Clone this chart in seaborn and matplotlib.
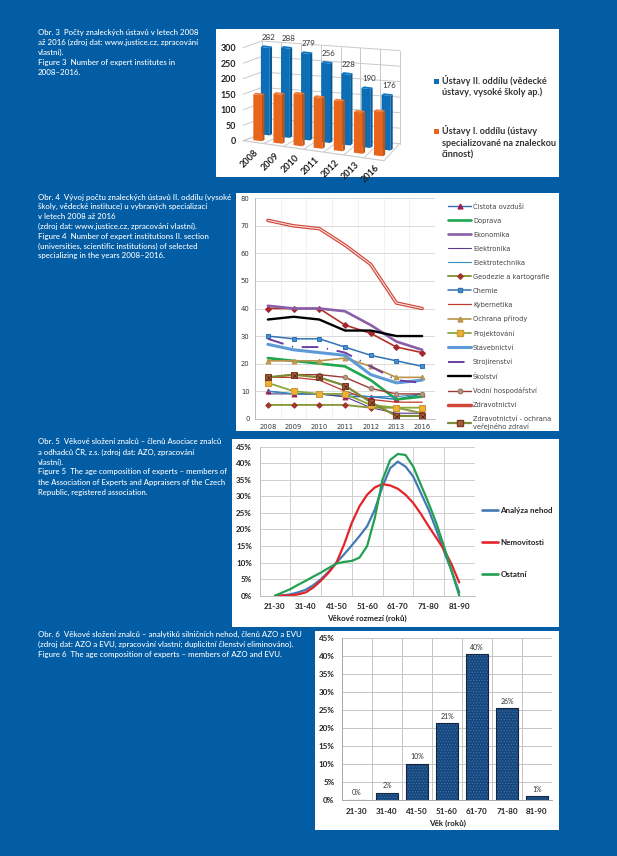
import numpy as np
import pandas as pd
import matplotlib
matplotlib.use("Agg")
import matplotlib.pyplot as plt
import seaborn as sns
from matplotlib.lines import Line2D
from matplotlib.patches import Rectangle
from matplotlib.transforms import Affine2D

W, H = 617, 856
BG = "#025DA5"
sns.set_theme(style="white")
plt.rcParams["font.family"] = ["Lato", "DejaVu Sans"]
plt.rcParams["hatch.linewidth"] = 0.5

# ---------- data ----------
years = ["2008", "2009", "2010", "2011", "2012", "2013", "2016"]
inst_II = [282, 288, 279, 256, 228, 190, 176]
inst_I = [148, 158, 167, 164, 161, 133, 143]
name_II = ["Ústavy II. oddílu (vědecké", "ústavy, vysoké školy ap.)"]
name_I = ["Ústavy I. oddílu (ústavy", "specializované na znaleckou", "činnost)"]

cistota = [10, 9, 9, 8, 8, 7, 9]
doprava = [22, 21, 20, 19, 14, 7, 8]
ekonomika = [41, 40, 40, 39, 34, 28, 25]
elektronika = [9, 9, 9, 8, 4, 2, 2]
elektrotechnika = [10, 9, 9, 9, 8, 8, 9]
geodezie = [5, 5, 5, 5, 4, 4, 2]
chemie = [30, 29, 29, 26, 23, 21, 19]
kybernetika = [15, 15, 14, 10, 7, 6, 6]
ochrana = [21, 21, 21, 22, 19, 15, 15]
projektovani = [13, 10, 9, 9, 5, 4, 4]
stavebnictvi = [27, 25, 24, 23, 16, 13, 14]
strojirenstvi = [29, 26, 26, 24, 19, 14, 13]
skolstvi = [36, 37, 36, 32, 32, 30, 30]
vodni = [15, 16, 16, 15, 11, 9, 9]
zdravotnictvi = [72, 70, 69, 63, 56, 42, 40]
zdrav_ochrana = [15, 16, 15, 12, 6, 1, 1]
bez_popisku = [40, 40, 40, 34, 31, 26, 24]

age_groups = ["21-30", "31-40", "41-50", "51-60", "61-70", "71-80", "81-90"]
curve_pos = [0, .25, .5, .75, 1, 1.25, 1.5, 1.75, 2, 2.25, 2.5, 2.75, 3, 3.25, 3.5,
             3.75, 4, 4.25, 4.5, 4.75, 5, 5.25, 5.5, 5.75, 6]
analyza = [0, .1, .4, 1, 1.8, 3.2, 5, 7.3, 10, 12.5, 15.2, 18, 21, 26, 33, 38.5, 40.5,
           39, 36, 31, 26, 20, 13.5, 7.5, 1]
nemovitosti = [0, 0, .1, .4, 1, 2.5, 4.6, 7, 10, 15.5, 22, 27, 30.5, 32.7, 33.7, 33.3,
               32.3, 30.5, 28, 24.7, 21, 17.5, 14, 9.5, 4]
ostatni = [0, 1, 2, 3.3, 4.5, 5.8, 7, 8.4, 9.7, 10.2, 10.5, 11.5, 15, 23.5, 35, 41,
           42.8, 42.5, 39, 33.5, 28, 22, 15, 7.5, 0]

age_share = [0, 2, 10, 21.3, 40.5, 25.5, 1]
age_labels = ["0%", "2%", "10%", "21%", "40%", "26%", "1%"]

cap3 = ["Obr. 3  Počty znaleckých ústavů v letech 2008",
        "až 2016 (zdroj dat: www.justice.cz, zpracování",
        "vlastní).",
        "Figure 3  Number of expert institutes in",
        "2008–2016."]
cap4 = ["Obr. 4  Vývoj počtu znaleckých ústavů II. oddílu (vysoké",
        "školy, vědecké instituce) u vybraných specializací",
        "v letech 2008 až 2016",
        "(zdroj dat: www.justice.cz, zpracování vlastní).",
        "Figure 4  Number of expert institutions II. section",
        "(universities, scientific institutions) of selected",
        "specializing in the years 2008–2016."]
cap5 = ["Obr. 5  Věkové složení znalců – členů Asociace znalců",
        "a odhadců ČR, z.s. (zdroj dat: AZO, zpracování",
        "vlastní).",
        "Figure 5  The age composition of experts – members of",
        "the Association of Experts and Appraisers of the Czech",
        "Republic, registered association."]
cap6 = ["Obr. 6  Věkové složení znalců – analytiků silničních nehod, členů AZO a EVU",
        "(zdroj dat: AZO a EVU, zpracování vlastní; duplicitní členství eliminováno).",
        "Figure 6  The age composition of experts – members of AZO and EVU."]

# ---------- helpers ----------
fig = plt.figure(figsize=(W / 100, H / 100), dpi=100, facecolor=BG)


def fx(x):
    return x / W


def fy(y):
    return 1 - y / H


def axes_px(x0, y0, x1, y1):
    a = fig.add_axes([fx(x0), fy(y1), (x1 - x0) / W, (y1 - y0) / H])
    a.patch.set_alpha(0)
    return a


def white_box(x0, y0, x1, y1):
    fig.add_artist(Rectangle((fx(x0), fy(y1)), (x1 - x0) / W, (y1 - y0) / H,
                             transform=fig.transFigure, fc="white", ec="none", zorder=-5))


def caption(lines, x, y0, step, size=5.7):
    for k, t in enumerate(lines):
        fig.text(fx(x), fy(y0 + k * step), t, color="white", fontsize=size,
                 va="center", ha="left", fontweight="medium")


white_box(216, 29, 559, 177)
white_box(236, 193, 559, 431)
white_box(232, 439, 559, 627)
white_box(315, 631, 559, 830)
caption(cap3, 38, 32, 10.2)
caption(cap4, 38, 197, 9.8)
caption(cap5, 38, 442, 10, size=5.6)
caption(cap6, 38, 634, 10)

# ---------- Figure 3: pseudo-3D columns ----------
ax = axes_px(247.7, 47.7, 388.5, 140.7)
df3 = pd.DataFrame({"rok": years * 2,
                    "pocet": inst_II + inst_I,
                    "oddil": ["II"] * 7 + ["I"] * 7})
sns.barplot(data=df3, x="rok", y="pocet", hue="oddil", dodge=False, width=.44,
            palette={"II": "#0B6EB6", "I": "#E8651C"}, saturation=1, legend=False,
            linewidth=0, ax=ax)
ax.set_xlim(-.5, 6.5)
ax.set_ylim(0, 300)
upp = 300 / 93
shear = 0.125 * 20.1 * upp
side_dx, side_dy = .115, 1.6 * upp


def bar_tf(dx, dy):
    return Affine2D.from_values(1, -shear, 0, 1, dx, dy) + ax.transData


tf_back = bar_tf(.375, 5.8 * upp)
tf_front = bar_tf(0, 0)
grid3 = "#c9c9c9"
bx0, bx1 = .2, 7.05
by = 6.7 * upp
drop = (0.07 * 20.1 * upp) * (bx1 - bx0)
fx0, fx1 = -.72, 6.28
for v in range(0, 301, 50):
    ax.plot([fx0, bx0], [v, v + by], color=grid3, lw=.7, clip_on=False, zorder=.5)
    ax.plot([bx0, bx1], [v + by, v + by - drop], color=grid3, lw=.7, clip_on=False, zorder=.5)
for i in range(8):
    bx = bx0 + i * (bx1 - bx0) / 7
    ftx = fx0 + i * (fx1 - fx0) / 7
    back_y = by - drop * i / 7
    front_y = -(i / 7) * 20 * upp
    ax.plot([ftx, bx], [front_y, back_y], color=grid3, lw=.7, clip_on=False, zorder=.5)
    ax.plot([bx, bx], [back_y, back_y + 300], color=grid3, lw=.7, clip_on=False, zorder=.5)
ax.plot([fx0, fx1], [0, -20 * upp], color=grid3, lw=.8, clip_on=False, zorder=.5)

for cont, tf, side, top, z in [(ax.containers[0], tf_back, "#075A98", "#0F77C2", 2),
                               (ax.containers[1], tf_front, "#BF5414", "#EE7B36", 3)]:
    for p in cont:
        p.set_transform(tf)
        p.set_clip_on(False)
        p.set_zorder(z)
        x0, x1, h = p.get_x(), p.get_x() + p.get_width(), p.get_height()
        ax.fill([x1, x1 + side_dx, x1 + side_dx, x1],
                [0, side_dy + shear * side_dx, h + side_dy + shear * side_dx, h],
                color=side, lw=0, transform=tf, clip_on=False, zorder=z)
        ax.fill([x0, x1, x1 + side_dx, x0 + side_dx],
                [h, h, h + side_dy + shear * side_dx, h + side_dy + shear * side_dx],
                color=top, lw=0, transform=tf, clip_on=False, zorder=z)
for i, v in enumerate(inst_II):
    ax.text(i + .14, v + 10 * upp, str(v), transform=tf_back, ha="center", va="center",
            fontsize=5.7, color="#333333", zorder=6)
for i, y in enumerate(years):
    ax.text(i - .39, -18.2 * upp - 2.4 * upp * i, y, rotation=45, ha="center", va="center",
            fontsize=6.6, fontweight="bold", color="#222222", clip_on=False)
sns.despine(ax=ax, left=True, bottom=True)
ax.set_xticks([])
ax.set_yticks(range(0, 301, 50))
ax.tick_params(axis="y", length=0, pad=8.3, labelsize=6.4, labelcolor="#222222")
for t in ax.get_yticklabels():
    t.set_fontweight("bold")
ax.set_xlabel("")
ax.set_ylabel("")

fig.add_artist(Rectangle((fx(433.5), fy(84)), 5 / W, 5.5 / H, transform=fig.transFigure,
                         fc="#0B6EB6", ec="none"))
fig.add_artist(Rectangle((fx(433.5), fy(134)), 5 / W, 5.5 / H, transform=fig.transFigure,
                         fc="#E8651C", ec="none"))
for k, t in enumerate(name_II):
    fig.text(fx(442), fy(81 + k * 11.7), t, fontsize=6.6, fontweight="bold", color="#333333", va="center")
for k, t in enumerate(name_I):
    fig.text(fx(442), fy(131 + k * 12), t, fontsize=6.6, fontweight="bold", color="#333333", va="center")

# ---------- Figure 4: lines ----------
ax = axes_px(255, 198.3, 435, 418.7)
series4 = [
    ("Čistota ovzduší", cistota, dict(color="#2E6DB4", lw=1.0, marker="^", ms=3.5, mfc="#A0205A", mec="#A0205A")),
    ("Doprava", doprava, dict(color="#1FA84F", lw=1.9)),
    ("Ekonomika", ekonomika, dict(color="#8A5FA8", lw=1.9)),
    ("Elektronika", elektronika, dict(color="#5B3A8C", lw=.8)),
    ("Elektrotechnika", elektrotechnika, dict(color="#2F8FC0", lw=.8)),
    ("Geodezie a kartografie", geodezie, dict(color="#8A9A3C", lw=1.4, marker="D", ms=2.8, mfc="#A0362B", mec="#A0362B")),
    ("Chemie", chemie, dict(color="#2F72B5", lw=1.1, marker="s", ms=3.2, mfc="#4A90D0", mec="#2F72B5")),
    ("Kybernetika", kybernetika, dict(color="#C0392B", lw=.9)),
    ("Ochrana přírody", ochrana, dict(color="#B8924A", lw=1.2, marker="^", ms=3.5, mfc="#C8A050", mec="#B8924A")),
    ("Projektování", projektovani, dict(color="#8AA83C", lw=1.3, marker="s", ms=3.8, mfc="#F0B030", mec="#C89A3A")),
    ("Stavebnictví", stavebnictvi, dict(color="#5C9BD8", lw=2.2)),
    ("Strojírenství", strojirenstvi, dict(color="#6A3FA0", lw=1.4, dashes=(8.5, 4.5, .6, 4.5))),
    ("Školství", skolstvi, dict(color="black", lw=1.7)),
    ("Vodní hospodářství", vodni, dict(color="#9B3A33", lw=1.0, marker="o", ms=3.2, mfc="#B89A80", mec="#9B7A68")),
    ("Zdravotnictví", zdravotnictvi, dict(color="#D0473A", lw=2.5)),
    ("Zdravotnictví - ochrana\nveřejného zdraví", zdrav_ochrana, dict(color="#7F8A35", lw=1.6, marker="s", ms=4.6, mfc="#A5603B", mec="#7A3A25")),
]
handles4 = []
sns.lineplot(x=years, y=bez_popisku, sort=False, errorbar=None, ax=ax, color="#B5312B", lw=1.2,
             marker="D", markersize=3, markerfacecolor="#A5282E", markeredgecolor="#A5282E")
for name, vals, st in series4:
    kw = dict(st)
    mk = {}
    for a, b in [("marker", "marker"), ("ms", "markersize"), ("mfc", "markerfacecolor"), ("mec", "markeredgecolor")]:
        if a in kw:
            mk[b] = kw.pop(a)
    sns.lineplot(x=years, y=vals, sort=False, errorbar=None, ax=ax, **kw, **mk)
    handles4.append(Line2D([], [], **{k: v for k, v in st.items()}))
    if name.startswith("Zdravotnictví - "):
        sns.lineplot(x=years, y=vals, sort=False, errorbar=None, ax=ax, lw=0, marker="x",
                     markersize=3.6, markeredgecolor="#5A2A1A", markeredgewidth=.6, color="#5A2A1A")
    if name == "Zdravotnictví":
        sns.lineplot(x=years, y=vals, sort=False, errorbar=None, ax=ax, color="#FBE3DF", lw=.8)
ax.set_xlim(-.5, 6.5)
ax.set_ylim(0, 80)
ax.set_yticks(range(0, 81, 10))
ax.set_xticks(range(7))
ax.set_xticks(np.arange(-.5, 7), minor=True)
ax.grid(True, which="major", axis="y", color="#d6d6d6", lw=.6)
ax.grid(True, which="minor", axis="x", color="#ececec", lw=.5)
ax.grid(False, which="major", axis="x")
ax.set_axisbelow(True)
sns.despine(ax=ax, top=True, right=True)
for s in ["left", "bottom"]:
    ax.spines[s].set_color("#b5b5b5")
    ax.spines[s].set_linewidth(.6)
ax.tick_params(axis="both", which="major", labelsize=4.9, length=0, pad=4, labelcolor="#333333",
               labelfontfamily="DejaVu Sans")
ax.set_xlabel("")
ax.set_ylabel("")
names4 = [s[0] for s in series4]
fs = 4.8
leg = fig.legend(handles4, names4, loc="upper left", bbox_to_anchor=(fx(448), fy(203.2)),
                 bbox_transform=fig.transFigure, frameon=False, handlelength=3.45,
                 handletextpad=.3, labelspacing=1.2, borderpad=0, borderaxespad=0,
                 prop={"family": "DejaVu Sans", "size": fs})
for t in leg.get_texts():
    t.set_color("#444444")

# ---------- Figure 5: age curves ----------
ax = axes_px(259.7, 446.7, 474.6, 595.7)
for name, vals, col in [("Analýza nehod", analyza, "#4479B5"),
                        ("Nemovitosti", nemovitosti, "#E3242B"),
                        ("Ostatní", ostatni, "#22A050")]:
    sns.lineplot(x=curve_pos, y=vals, errorbar=None, ax=ax, color=col, lw=1.6, label=name)
ax.set_xlim(-.5, 6.5)
ax.set_ylim(0, 45)
ax.set_yticks(range(0, 46, 5))
ax.set_yticklabels([f"{v}%" for v in range(0, 46, 5)])
ax.set_xticks(range(7))
ax.set_xticklabels(age_groups)
ax.set_xticks(np.arange(-.5, 7), minor=True)
ax.grid(True, which="major", axis="y", color="#cfcfcf", lw=.7)
ax.grid(True, which="minor", axis="x", color="#cfcfcf", lw=.7)
ax.grid(False, which="major", axis="x")
ax.set_axisbelow(True)
sns.despine(ax=ax, top=True, right=True)
for s in ["left", "bottom"]:
    ax.spines[s].set_color("#bdbdbd")
    ax.spines[s].set_linewidth(.7)
ax.tick_params(axis="both", which="major", labelsize=5.8, length=0, pad=5.5, labelcolor="#222222")
for t in ax.get_xticklabels() + ax.get_yticklabels():
    t.set_fontweight("bold")
ax.set_xlabel("Věkové rozmezí (roků)", fontsize=5.8, fontweight="bold", color="#222222", labelpad=3.5)
ax.set_ylabel("")
ax.get_legend().remove()
h, l = ax.get_legend_handles_labels()
leg = fig.legend(h, l, loc="upper left", bbox_to_anchor=(fx(482), fy(506.8)),
                 bbox_transform=fig.transFigure, frameon=False, handlelength=2.0,
                 handletextpad=.3, labelspacing=3.12, borderpad=0, borderaxespad=0,
                 prop={"weight": "bold", "size": 5.8})
for t in leg.get_texts():
    t.set_color("#222222")
for ln in leg.get_lines():
    ln.set_linewidth(1.9)

# ---------- Figure 6: age bars ----------
ax = axes_px(342, 638, 552, 800)
df6 = pd.DataFrame({"vek": age_groups, "podil": age_share})
sns.barplot(data=df6, x="vek", y="podil", width=.72, color="#17477F", saturation=1, ax=ax, zorder=2)
for p in ax.containers[0]:
    p.set_hatch("......")
    p.set_edgecolor("#3F73A8")
    p.set_linewidth(0)
sns.barplot(data=df6, x="vek", y="podil", width=.72, fill=False, color="#14253D", linewidth=.8, ax=ax, zorder=3)
ax.bar_label(ax.containers[0], labels=age_labels, padding=2.6, fontsize=5, color="#333333")
ax.set_xlim(-.5, 6.5)
ax.set_ylim(0, 45)
ax.set_yticks(range(0, 46, 5))
ax.set_yticklabels([f"{v}%" for v in range(0, 46, 5)])
ax.set_xticks(np.arange(-.5, 7), minor=True)
ax.grid(True, which="major", axis="y", color="#c4c4c4", lw=.7)
ax.grid(True, which="minor", axis="x", color="#c4c4c4", lw=.7)
ax.grid(False, which="major", axis="x")
ax.set_axisbelow(True)
sns.despine(ax=ax, top=True, right=True)
for s in ["left", "bottom"]:
    ax.spines[s].set_color("#a8a8a8")
    ax.spines[s].set_linewidth(.7)
ax.tick_params(axis="both", which="major", labelsize=5.8, length=0, pad=5.5, labelcolor="#222222")
for t in ax.get_xticklabels() + ax.get_yticklabels():
    t.set_fontweight("bold")
ax.set_xlabel("Věk (roků)", fontsize=5.8, fontweight="bold", color="#222222", labelpad=3.8)
ax.set_ylabel("")

fig.savefig("out.png", dpi=100, facecolor=BG)
